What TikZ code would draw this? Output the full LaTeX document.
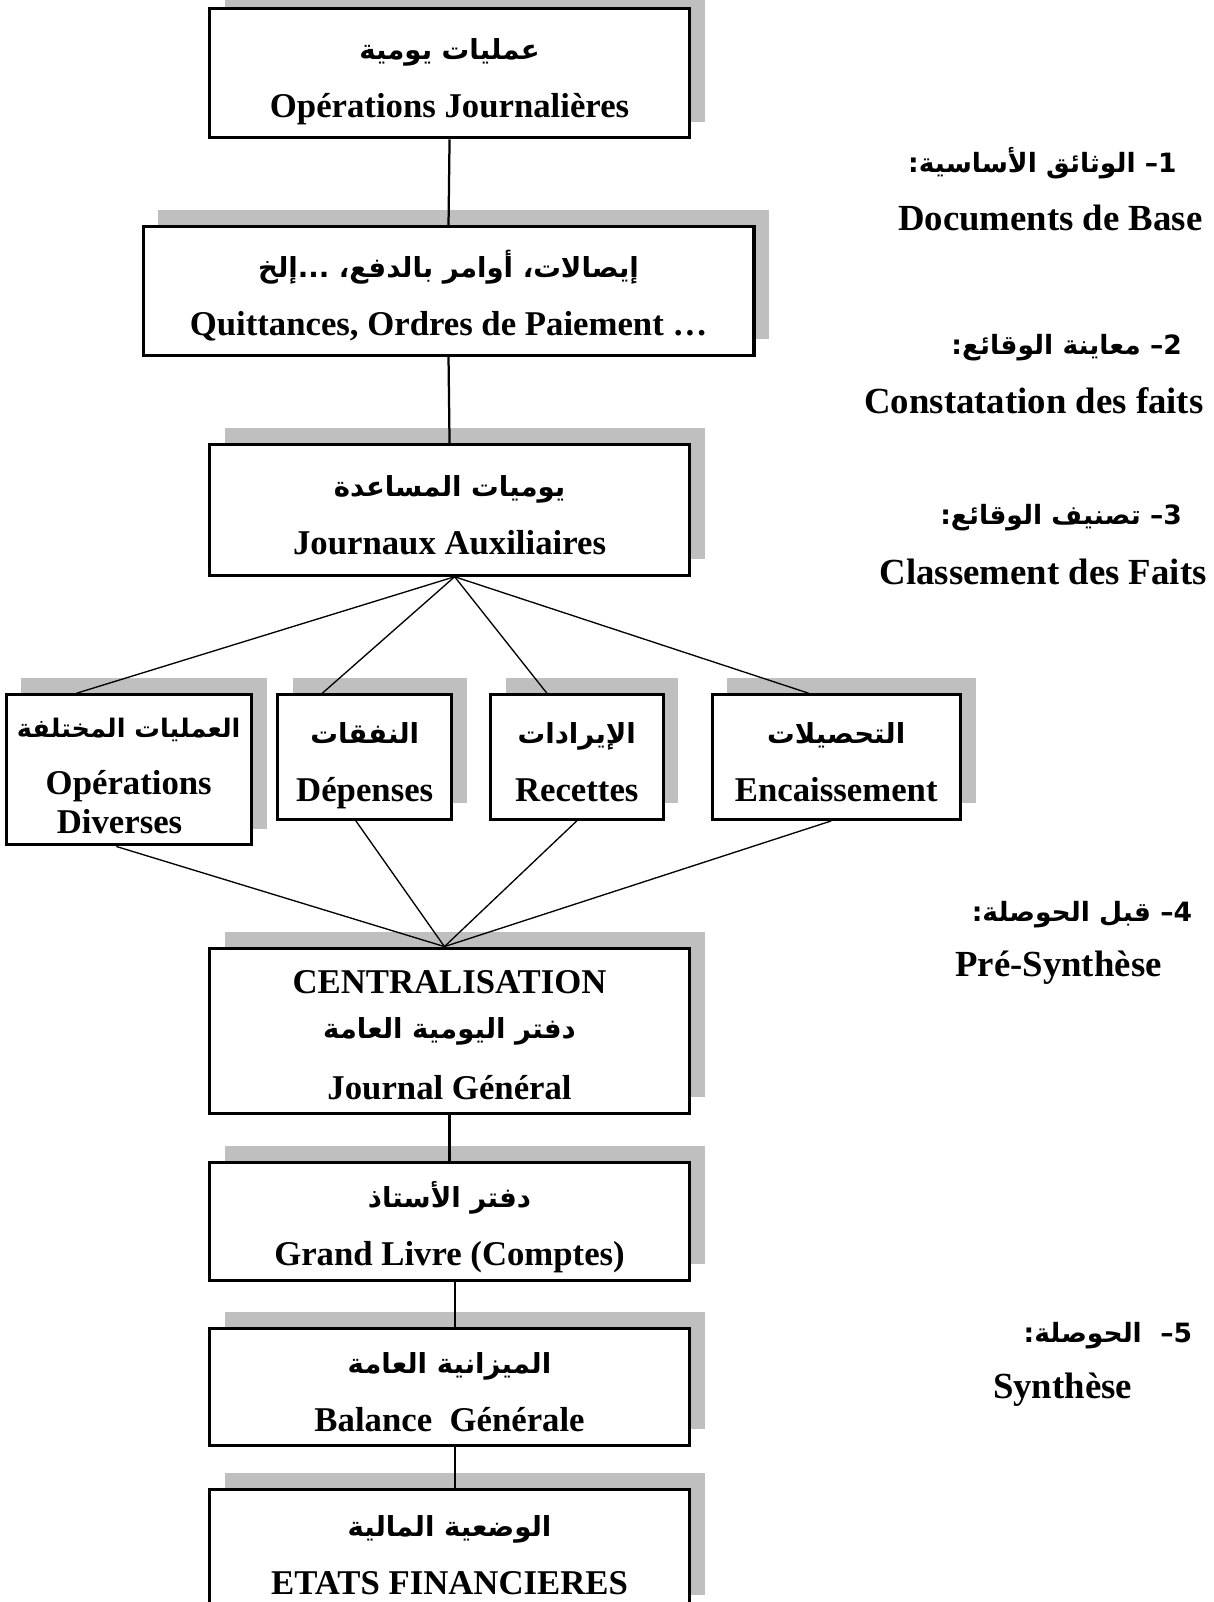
\documentclass[tikz,border=0pt]{standalone}
\usepackage{fontspec}
\setmainfont{Liberation Serif}
\newfontfamily\arabicfont[Script=Arabic]{DejaVu Sans}
\TeXXeTstate=1
\usetikzlibrary{calc,shadows}
\definecolor{ink}{HTML}{000000}
\definecolor{shadowgray}{HTML}{BFBFBF}
\tikzset{
  flowBox/.style={draw=ink, fill=white, line width=3pt, align=center, inner sep=0pt,
    minimum width=470pt, font=\fontsize{34}{38}\selectfont\bfseries,
    drop shadow={shadow xshift=15pt, shadow yshift=16pt, fill=shadowgray, opacity=1}},
  link/.style={draw=ink, line width=2.2pt},
  fanLink/.style={draw=ink, line width=1.3pt},
  sideAr/.style={inner sep=0pt, anchor=east, font=\fontsize{34}{38}\selectfont\bfseries},
  sideLat/.style={inner sep=0pt, font=\fontsize{36}{40}\selectfont\bfseries},
}
\newcommand{\arTxt}[2][27]{{\arabicfont\fontsize{#1}{32}\selectfont\beginR #2\endR}}
% first line of a box: fixed top, last line: fixed depth
\newcommand{\boxTop}{\rule{0pt}{39pt}}
\newcommand{\boxEnd}{\rule[-9pt]{0pt}{9pt}}

\begin{document}
\begin{tikzpicture}[x=1pt, y=-1pt]
  \useasboundingbox (0,0) rectangle (1188,1568);

  % main column
  \node[flowBox, minimum height=127pt] (ops) at (440,71.5)
    {\boxTop\arTxt{عمليات يومية}\\[19pt] Opérations Journalières\boxEnd};
  \node[flowBox, minimum width=598pt, minimum height=126pt] (docs) at (439,285)
    {\boxTop\arTxt{إيصالات، أوامر بالدفع، ...إلخ}\\[19pt] Quittances, Ordres de Paiement …\boxEnd};
  \node[flowBox, minimum height=128pt] (aux) at (440,499)
    {\boxTop\arTxt{يوميات المساعدة}\\[19pt] Journaux Auxiliaires\boxEnd};

  % journaux auxiliaires
  \node[flowBox, minimum width=240pt, minimum height=147pt] (divers) at (126,753.5)
    {\boxTop\arTxt[25]{العمليات المختلفة}\\[18pt] Opérations\\ Diverses\hspace*{18pt}\boxEnd};
  \node[flowBox, minimum width=170pt, minimum height=122pt] (depenses) at (357,741)
    {\boxTop\arTxt{النفقات}\\[19pt] Dépenses\boxEnd};
  \node[flowBox, minimum width=169pt, minimum height=122pt] (recettes) at (564.5,741)
    {\boxTop\arTxt{الإيرادات}\\[19pt] Recettes\boxEnd};
  \node[flowBox, minimum width=243pt, minimum height=122pt] (encaisse) at (818.5,741)
    {\boxTop\arTxt{التحصيلات}\\[19pt] Encaissement\boxEnd};

  \node[flowBox, minimum height=162pt] (central) at (440,1009)
    {\boxTop CENTRALISATION\\[6.5pt] \arTxt{دفتر اليومية العامة}\\[21pt] Journal Général\boxEnd};
  \node[flowBox, minimum height=115pt] (grandLivre) at (440,1195.5)
    {\boxTop\arTxt{دفتر الأستاذ}\\[19pt] Grand Livre (Comptes)\boxEnd};
  \node[flowBox, minimum height=115pt] (balance) at (440,1357.5)
    {\boxTop\arTxt{الميزانية العامة}\\[19pt] Balance~~Générale\boxEnd};
  \node[flowBox, minimum height=120pt] (etats) at (440,1517.5)
    {\boxTop\arTxt{الوضعية المالية}\\[19pt] ETATS FINANCIERES\boxEnd};

  % connectors
  \draw[link] (ops.south) -- (docs.north);
  \draw[link] (docs.south) -- (aux.north);
  \coordinate (fanTop) at ($(aux.south)+(5,0)$);
  \draw[fanLink] (fanTop) -- ($(divers.north west)!0.29!(divers.north east)$);
  \draw[fanLink] (fanTop) -- ($(depenses.north west)!0.26!(depenses.north east)$);
  \draw[fanLink] (fanTop) -- ($(recettes.north west)!0.33!(recettes.north east)$);
  \draw[fanLink] (fanTop) -- ($(encaisse.north west)!0.39!(encaisse.north east)$);
  \coordinate (fanBot) at ($(central.north)+(-5,0)$);
  \draw[fanLink] ($(divers.south west)!0.45!(divers.south east)$) -- (fanBot);
  \draw[fanLink] ($(depenses.south west)!0.45!(depenses.south east)$) -- (fanBot);
  \draw[fanLink] (recettes.south) -- (fanBot);
  \draw[fanLink] ($(encaisse.south west)!0.48!(encaisse.south east)$) -- (fanBot);
  \draw[link] (central.south) -- (grandLivre.north);
  \draw[link] ($(grandLivre.south)+(5,0)$) -- ($(balance.north)+(5,0)$);
  \draw[link] ($(balance.south)+(5,0)$) -- ($(etats.north)+(5,0)$);

  % steps on the right
  \node[sideAr] (stepOneAr) at (1152,160) {\arTxt[26]{1– الوثائق الأساسية:}};
  \node[sideLat] (stepOneLat) at (1028,213) {Documents de Base};
  \node[sideAr] (stepTwoAr) at (1157,340) {\arTxt[26]{2– معاينة الوقائع:}};
  \node[sideLat] (stepTwoLat) at (1012,392) {Constatation des faits};
  \node[sideAr] (stepThreeAr) at (1157,507) {\arTxt[26]{3– تصنيف الوقائع:}};
  \node[sideLat] (stepThreeLat) at (1021,560) {Classement des Faits};
  \node[sideAr] (stepFourAr) at (1167,895) {\arTxt[26]{4– قبل الحوصلة:}};
  \node[sideLat] (stepFourLat) at (1036,947) {Pré-Synthèse};
  \node[sideAr] (stepFiveAr) at (1167,1307) {\arTxt[26]{5–~~الحوصلة:}};
  \node[sideLat] (stepFiveLat) at (1040,1360) {Synthèse};
\end{tikzpicture}
\end{document}
